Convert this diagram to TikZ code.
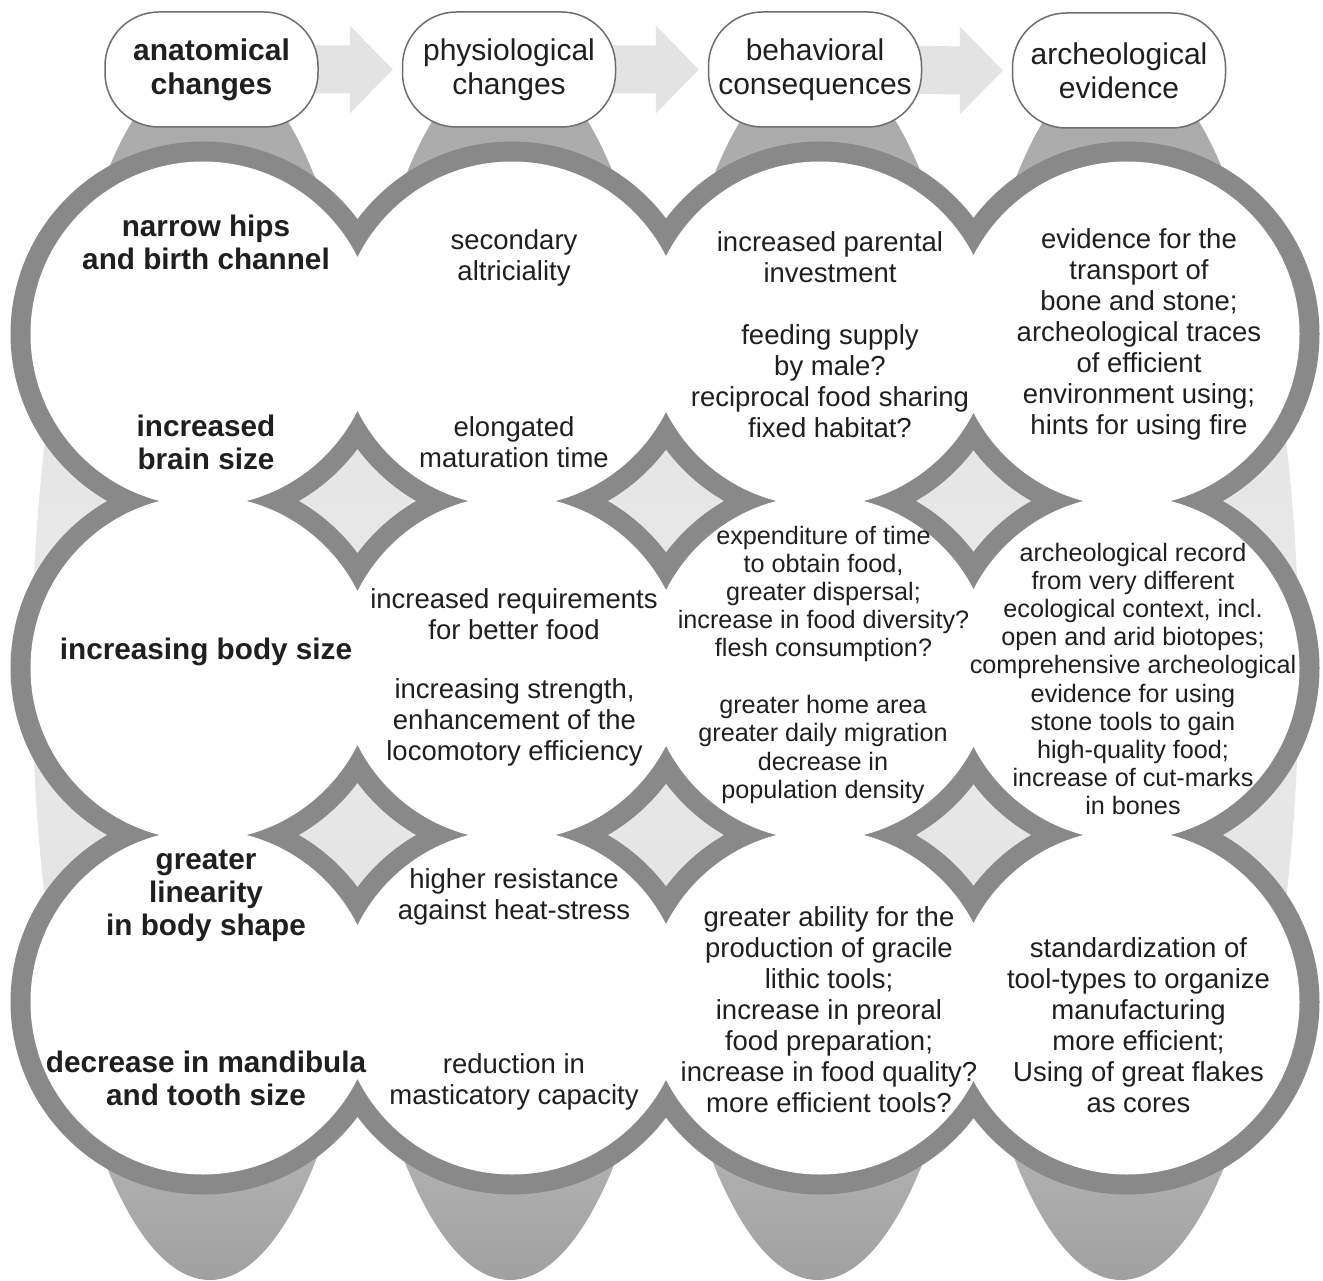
\documentclass[tikz,border=0pt]{standalone}
\usepackage{fontspec}
\setmainfont{Liberation Sans}
\usetikzlibrary{calc}

\definecolor{ringgray}{HTML}{898989}
\definecolor{arrowgray}{HTML}{E3E3E3}
\definecolor{boxline}{HTML}{6E6E6E}
\definecolor{inkgray}{HTML}{1F1F1F}
\definecolor{lensA}{HTML}{A0A0A0}
\definecolor{lensB}{HTML}{A7A7A7}
\definecolor{lensC}{HTML}{B0B0B0}
\definecolor{lensD}{HTML}{C9C9C9}
\definecolor{lensE}{HTML}{E1E1E1}
\definecolor{lensF}{HTML}{EAEAEA}
\definecolor{lensG}{HTML}{E3E3E3}
\definecolor{lensH}{HTML}{C8C8C8}
\definecolor{lensI}{HTML}{ADADAD}
\definecolor{lensJ}{HTML}{A8A8A8}

% vertical grey band behind each column: dark at both ends, light in the middle
\pgfdeclareverticalshading{lensshade}{100bp}{%
  color(0bp)=(lensA); color(25bp)=(lensA); color(27bp)=(lensB);
  color(29.9bp)=(lensC); color(33.2bp)=(lensD); color(36.1bp)=(lensE);
  color(50bp)=(lensF); color(63.9bp)=(lensG); color(66.8bp)=(lensH);
  color(70.1bp)=(lensI); color(75bp)=(lensJ); color(100bp)=(lensJ)}

\pgfdeclarelayer{back}
\pgfsetlayers{back,main}

\begin{document}
\begin{tikzpicture}[x=1pt,y=-1pt,
  headbox/.style={draw=boxline, line width=1.5pt, fill=white, rounded corners=54pt,
    minimum width=213pt, minimum height=115pt, inner sep=0pt, align=center,
    text=inkgray, font=\fontsize{30}{34}\selectfont},
  bodytxt/.style={align=center, inner sep=0pt, text=inkgray,
    font=\fontsize{27.5}{31}\selectfont},
  densetxt/.style={align=center, inner sep=0pt, text=inkgray,
    font=\fontsize{25.2}{28.2}\selectfont},
  boldtxt/.style={align=center, inner sep=0pt, text=inkgray,
    font=\bfseries\fontsize{29.7}{33}\selectfont},
  flowarrow/.style={fill=arrowgray}
]
\useasboundingbox (0,0) rectangle (1323,1281);

\begin{pgfonlayer}{back}
  \fill[white] (0,0) rectangle (1323,1281);
  % grey bands behind the columns
  \foreach \cx in {210,510,818,1121}
    \shade[shading=lensshade] (\cx,670) ellipse [x radius=178pt, y radius=610pt];
  % ring outline of the joined circles
  \foreach \cx in {203,512,820,1127}
    \foreach \cy in {334,668,1002}
      \fill[ringgray] (\cx,\cy) circle[radius=192.5pt];
  \foreach \cx in {203,512,820,1127}
    \foreach \cy in {334,668,1002}
      \fill[white] (\cx,\cy) circle[radius=172.5pt];
\end{pgfonlayer}

% column headers
\node[headbox] (h1) at (211.5,69.5) {\bfseries anatomical\\\bfseries changes};
\node[headbox] (h2) at (509,69.5) {physiological\\changes};
\node[headbox] (h3) at (815,69.5) {behavioral\\consequences};
\node[headbox] (h4) at (1119,70.5) {archeological\\evidence};

% block arrows between the headers
\begin{pgfonlayer}{back}
  \foreach \a/\b in {h1/h2,h2/h3,h3/h4}
    \fill[flowarrow] ($(\a.east)+(-14,-24)$) -- ($(\b.west)+(-52,-24)$)
      -- ($(\b.west)+(-52,-44)$) -- ($(\b.west)+(-9,0)$)
      -- ($(\b.west)+(-52,44)$) -- ($(\b.west)+(-52,24)$)
      -- ($(\a.east)+(-14,24)$) -- cycle;
\end{pgfonlayer}

% anatomical changes
\node[boldtxt] (a1) at (206,242) {narrow hips\\and birth channel};
\node[boldtxt] (a2) at (206,442) {increased\\brain size};
\node[boldtxt] (a3) at (206,652) {increasing body size};
\node[boldtxt] (a4) at (206,896) {greater\\linearity\\in body shape};
\node[boldtxt] (a5) at (206,1078) {decrease in mandibula\\and tooth size};

% physiological changes
\node[bodytxt] (p1) at (514,257.5) {secondary\\altriciality};
\node[bodytxt] (p2) at (514,442.5) {elongated\\maturation time};
\node[bodytxt] (p3) at (514,614.5) {increased requirements\\for better food};
\node[bodytxt] (p4) at (514.5,722) {increasing strength,\\enhancement of the\\locomotory efficiency};
\node[bodytxt] (p5) at (514,896.5) {higher resistance\\against heat-stress};
\node[bodytxt] (p6) at (514,1081.5) {reduction in\\masticatory capacity};

% behavioral consequences
\node[bodytxt] (b1) at (830,257.5) {increased parental\\investment};
\node[bodytxt] (b2) at (830,381) {feeding supply\\by male?\\reciprocal food sharing\\fixed habitat?};
\node[densetxt] (b3) at (823.5,594) {expenditure of time\\to obtain food,\\greater dispersal;\\increase in food diversity?\\flesh consumption?};
\node[densetxt] (b4) at (823,749.5) {greater home area\\greater daily migration\\decrease in\\population density};
\node[bodytxt] (b5) at (829,1010) {greater ability for the\\production of gracile\\lithic tools;\\increase in preoral\\food preparation;\\increase in food quality?\\more efficient tools?};

% archeological evidence
\node[bodytxt] (e1) at (1139,334.5) {evidence for the\\transport of\\bone and stone;\\archeological traces\\of efficient\\environment using;\\hints for using fire};
\node[densetxt] (e2) at (1133,679) {archeological record\\from very different\\ecological context, incl.\\open and arid biotopes;\\comprehensive archeological\\evidence for using\\stone tools to gain\\high-quality food;\\increase of cut-marks\\in bones};
\node[bodytxt] (e3) at (1138.5,1025) {standardization of\\tool-types to organize\\manufacturing\\more efficient;\\Using of great flakes\\as cores};
\end{tikzpicture}
\end{document}
